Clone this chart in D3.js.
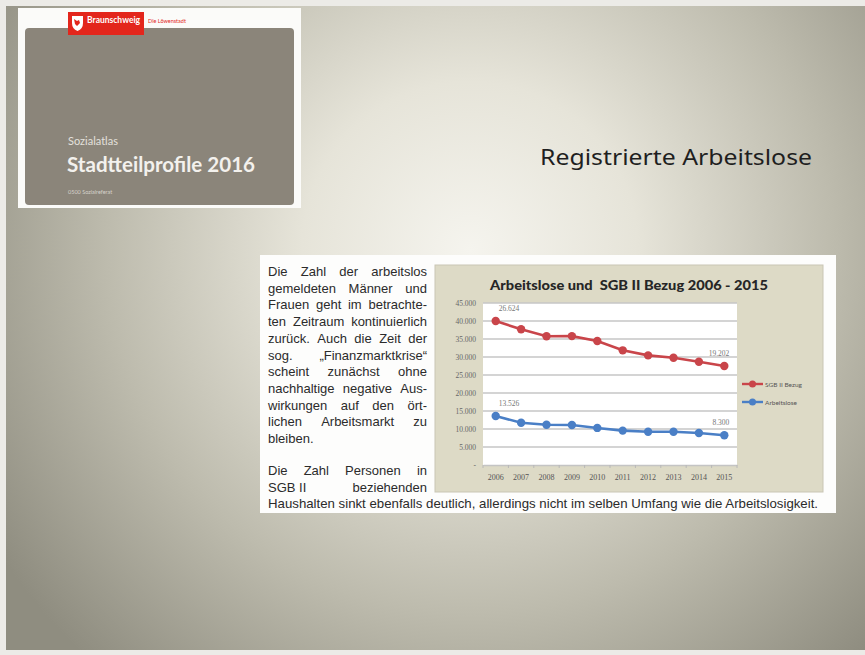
<!DOCTYPE html>
<html>
<head>
<meta charset="utf-8">
<script src="https://cdn.jsdelivr.net/npm/d3@7"></script>
<style>
    html, body { margin: 0; padding: 0; background: #ecebe7; }
    svg { display: block; }
</style>
</head>
<body>
<svg id="slide"></svg>
<script>
/* global d3 */
const years = ["2006", "2007", "2008", "2009", "2010", "2011", "2012", "2013", "2014", "2015"];
const sgbValues = [40000, 37700, 35750, 35800, 34450, 31850, 30450, 29800, 28700, 27500];
const alValues = [13600, 11750, 11200, 11100, 10300, 9550, 9250, 9250, 8900, 8250];
const seriesNames = ["SGB II Bezug", "Arbeitslose"];
const sgbLabels = ["26.624", "19.202"];
const alLabels = ["13.526", "8.300"];
const yTicks = [0, 5000, 10000, 15000, 20000, 25000, 30000, 35000, 40000, 45000];
const paragraphOne = [
    "Die Zahl der arbeitslos",
    "gemeldeten Männer und",
    "Frauen geht im betrachte-",
    "ten Zeitraum kontinuierlich",
    "zurück. Auch die Zeit der",
    "sog. „Finanzmarktkrise“",
    "scheint zunächst ohne",
    "nachhaltige negative Aus-",
    "wirkungen auf den ört-",
    "lichen Arbeitsmarkt zu",
    "bleiben."
];
const paragraphTwo = [
    "Die Zahl Personen in",
    "SGB\u00a0II beziehenden",
    "Haushalten sinkt ebenfalls deutlich, allerdings nicht im selben Umfang wie die Arbeitslosigkeit."
];

(() => {
    const width = 865,
        height = 655,
        svg = d3.select("#slide").attr("width", width).attr("height", height),
        defs = svg.append("defs");

    // slide background, light in the middle, grey-olive at the edges
    const bg = defs.append("radialGradient").attr("id", "bgGrad")
        .attr("gradientUnits", "userSpaceOnUse")
        .attr("cx", 470).attr("cy", 250).attr("r", 560);
    [[0, "#f5f4ee"], [0.3, "#e6e4d9"], [0.65, "#bdbbad"], [1, "#8f8d80"]].forEach(s =>
        bg.append("stop").attr("offset", s[0]).attr("stop-color", s[1]));
    svg.append("rect").attr("x", 6).attr("y", 6).attr("width", width - 6).attr("height", 644)
        .attr("fill", "url(#bgGrad)");

    // cover card top left
    const card = svg.append("g");
    card.append("rect").attr("x", 18).attr("y", 8).attr("width", 283).attr("height", 200).attr("fill", "#fbfbf9");
    card.append("rect").attr("x", 25).attr("y", 28).attr("width", 269).attr("height", 177).attr("rx", 4)
        .attr("fill", "#8b857a");
    card.append("rect").attr("x", 68).attr("y", 12).attr("width", 76).attr("height", 23).attr("fill", "#e3261c");
    card.append("path").attr("d", "M72,16 h11 v7 q0,6 -5.5,8 q-5.5,-2 -5.5,-8 z").attr("fill", "#fff");
    card.append("path").attr("d", "M74,19 l3,2 l2,-1 l1,3 l-3,3 l-2,-2 z").attr("fill", "#e3261c");
    card.append("text").attr("x", 87).attr("y", 23).text("Braunschweig")
        .attr("font-family", "Lato, sans-serif").attr("font-weight", "bold").attr("font-size", 8.5).attr("fill", "#fff");
    card.append("text").attr("x", 148).attr("y", 23).text("Die Löwenstadt")
        .attr("font-family", "Lato, sans-serif").attr("font-size", 5.5).attr("fill", "#e3261c");
    card.append("text").attr("x", 68).attr("y", 145).text("Sozialatlas")
        .attr("font-family", "Lato, sans-serif").attr("font-size", 11).attr("fill", "#e4e1dc");
    card.append("text").attr("x", 67).attr("y", 172).text("Stadtteilprofile 2016")
        .attr("font-family", "Lato, sans-serif").attr("font-weight", "bold").attr("font-size", 21)
        .attr("textLength", 188).attr("lengthAdjust", "spacingAndGlyphs").attr("fill", "#f3f1ed");
    card.append("text").attr("x", 68).attr("y", 194).text("0500 Sozialreferat")
        .attr("font-family", "Lato, sans-serif").attr("font-size", 5.5).attr("fill", "#d6d2cb");

    // slide heading
    svg.append("text").attr("x", 540).attr("y", 165).text("Registrierte Arbeitslose")
        .attr("font-family", "'Noto Sans', sans-serif").attr("font-size", 22).attr("fill", "#1f1f1f")
        .attr("textLength", 272).attr("lengthAdjust", "spacingAndGlyphs");

    // white panel holding text and chart
    svg.append("rect").attr("x", 260).attr("y", 255).attr("width", 576).attr("height", 258).attr("fill", "#fdfdfc");

    // justified text
    const txt = svg.append("g")
        .attr("font-family", "'Liberation Sans', Arial, sans-serif").attr("font-size", 13).attr("fill", "#2b2b2b");
    const left = 268, right = 427;
    const measure = txt.append("text");
    const wordWidth = w => { measure.text(w); return measure.node().getComputedTextLength(); };
    function drawLine(line, y, justify) {
        if (!justify) {
            txt.append("text").attr("x", left).attr("y", y).text(line)
                .attr("textLength", line.length > 40 ? 550 : null).attr("lengthAdjust", "spacingAndGlyphs");
            return;
        }
        const words = line.split(" "),
            widths = words.map(wordWidth),
            total = d3.sum(widths),
            gap = words.length > 1 ? (right - left - total) / (words.length - 1) : 0;
        if (gap < 3) {
            txt.append("text").attr("x", left).attr("y", y).text(line)
                .attr("textLength", right - left).attr("lengthAdjust", "spacingAndGlyphs");
            return;
        }
        let x = left;
        words.forEach((w, i) => {
            txt.append("text").attr("x", x).attr("y", y).text(w);
            x += widths[i] + gap;
        });
    }
    paragraphOne.forEach((line, i) => drawLine(line, 276 + i * 16.7, i < paragraphOne.length - 1));
    paragraphTwo.forEach((line, i) => drawLine(line, 475 + i * 16.6, i < paragraphTwo.length - 1));
    measure.remove();

    // chart
    const chart = svg.append("g");
    chart.append("rect").attr("x", 435).attr("y", 265).attr("width", 388).attr("height", 227)
        .attr("fill", "#dddac6").attr("stroke", "#c9c6b4").attr("stroke-width", 1);
    chart.append("text").attr("x", 629).attr("y", 290).attr("text-anchor", "middle")
        .text("Arbeitslose und  SGB II Bezug 2006 - 2015")
        .attr("font-family", "Lato, sans-serif").attr("font-weight", "900").attr("font-size", 13.5)
        .attr("fill", "#262626").attr("textLength", 278).attr("lengthAdjust", "spacingAndGlyphs")
        .attr("style", "white-space: pre");

    const x = d3.scaleBand().domain(years).range([483, 737]),
        y = d3.scaleLinear().domain([0, 45000]).range([465, 303]),
        cx = d => x(d) + x.bandwidth() / 2,
        deFmt = v => v === 0 ? "-" : d3.format(",")(v).replace(/,/g, ".");

    chart.append("rect").attr("x", 483).attr("y", y(45000)).attr("width", 254).attr("height", y(0) - y(45000))
        .attr("fill", "#fff");
    chart.append("g").selectAll("line").data(yTicks.slice(1)).join("line")
        .attr("x1", 483).attr("x2", 737).attr("y1", d => y(d)).attr("y2", d => y(d))
        .attr("stroke", "#c6c6c6").attr("stroke-width", 1.6);

    const yAxis = chart.append("g").attr("transform", "translate(483,0)")
        .call(d3.axisLeft(y).tickValues(yTicks).tickFormat(deFmt).tickSize(0).tickPadding(7));
    yAxis.select(".domain").remove();
    yAxis.selectAll("text").attr("font-family", "'Liberation Serif', serif").attr("font-size", 7.5).attr("fill", "#666");

    const xAxis = chart.append("g").attr("transform", "translate(0,465)")
        .call(d3.axisBottom(x).tickSize(0).tickPadding(9));
    xAxis.select(".domain").attr("stroke", "#c4c4c4").attr("stroke-width", 1.5);
    xAxis.selectAll("text").attr("font-family", "'Liberation Serif', serif").attr("font-size", 8).attr("fill", "#555");
    chart.append("g").selectAll("line").data(years.concat([""])).join("line")
        .attr("x1", (d, i) => 483 + i * x.step()).attr("x2", (d, i) => 483 + i * x.step())
        .attr("y1", 465).attr("y2", 468).attr("stroke", "#b8b8b8");

    const line = d3.line().x(d => cx(d.year)).y(d => y(d.value));
    const series = [
        {name: seriesNames[0], color: "#c9454a", values: sgbValues, labels: sgbLabels},
        {name: seriesNames[1], color: "#4a7fc6", values: alValues, labels: alLabels}
    ];
    series.forEach(s => {
        const pts = years.map((yr, i) => ({year: yr, value: s.values[i]}));
        chart.append("path").datum(pts).attr("d", line)
            .attr("fill", "none").attr("stroke", s.color).attr("stroke-width", 2.6);
        chart.append("g").selectAll("circle").data(pts).join("circle")
            .attr("cx", d => cx(d.year)).attr("cy", d => y(d.value)).attr("r", 4.2)
            .attr("fill", s.color);
        const ends = [pts[0], pts[pts.length - 1]];
        chart.append("g").selectAll("text").data(ends).join("text")
            .attr("x", d => cx(d.year)).attr("y", d => y(d.value) - 10)
            .attr("text-anchor", (d, i) => i === 0 ? "start" : "end")
            .attr("dx", (d, i) => i === 0 ? 3 : 5)
            .text((d, i) => s.labels[i])
            .attr("font-family", "'Liberation Serif', serif").attr("font-size", 7.5).attr("fill", "#777");
    });

    // legend
    const legend = chart.append("g").selectAll("g").data(series).join("g")
        .attr("transform", (d, i) => `translate(742,${384 + i * 18})`);
    legend.append("line").attr("x1", 0).attr("x2", 21).attr("stroke", d => d.color).attr("stroke-width", 2.4);
    legend.append("circle").attr("cx", 10.5).attr("r", 3.5).attr("fill", d => d.color);
    legend.append("text").attr("x", 23).attr("y", 2.5).text(d => d.name)
        .attr("font-family", "Lato, sans-serif").attr("font-size", 6.5).attr("fill", "#555");
})();
</script>
</body>
</html>
